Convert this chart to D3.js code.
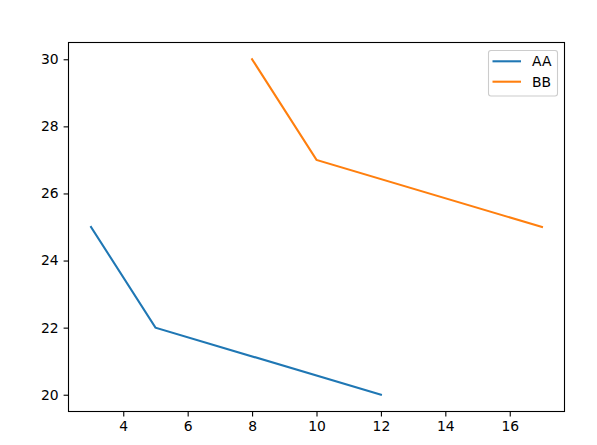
<!DOCTYPE html>
<html><head><meta charset="utf-8">
<script src="https://cdn.jsdelivr.net/npm/d3@7"></script>
<style>body{margin:0;background:#fff}svg{display:block}text{font-family:"DejaVu Sans",sans-serif}</style>
</head><body>
<svg id="c" width="597" height="445"></svg>
<script>
const seriesNames = ["AA", "BB"];
const aaX = [3, 5, 12];
const aaY = [25, 22, 20];
const bbX = [8, 10, 17];
const bbY = [30, 27, 25];
const xTicks = [4, 6, 8, 10, 12, 14, 16];
const yTicks = [20, 22, 24, 26, 28, 30];
const colors = ["#1f77b4", "#ff7f0e"];

const svg = d3.select("#c");
const L = 68.5, R = 564.5, T = 42.5, B = 411.5;
const FS = 13.9;
const x = d3.scaleLinear().domain([2.3, 17.7]).range([L, R]);
const y = d3.scaleLinear().domain([19.5, 30.5]).range([B, T]);

const series = [
  {name: seriesNames[0], pts: aaX.map((v, i) => [v, aaY[i]])},
  {name: seriesNames[1], pts: bbX.map((v, i) => [v, bbY[i]])}
];
const line = d3.line().x(d => x(d[0])).y(d => y(d[1]));
series.forEach((s, i) => {
  svg.append("path").attr("d", line(s.pts)).attr("fill", "none")
    .attr("stroke", colors[i]).attr("stroke-width", 2.08).attr("stroke-linecap", "square");
});

const xa = svg.append("g").attr("transform", `translate(0,${B})`)
  .call(d3.axisBottom(x).tickValues(xTicks).tickSize(4.9).tickPadding(4.9).tickFormat(d3.format("d")));
const ya = svg.append("g").attr("transform", `translate(${L},0)`)
  .call(d3.axisLeft(y).tickValues(yTicks).tickSize(4.9).tickPadding(4.9).tickFormat(d3.format("d")));
[xa, ya].forEach(a => {
  a.select(".domain").remove();
  a.selectAll("text").attr("font-size", FS).attr("fill", "#000").attr("font-family", "DejaVu Sans");
  a.selectAll("line").attr("stroke", "#000").attr("stroke-width", 1.1);
});
svg.append("rect").attr("x", L).attr("y", T).attr("width", R - L).attr("height", B - T)
  .attr("fill", "none").attr("stroke", "#000").attr("stroke-width", 1.1);

const lg = svg.append("g");
lg.append("rect").attr("x", 488.5).attr("y", 50.5).attr("width", 69).attr("height", 45.5)
  .attr("rx", 2.5).attr("fill", "#fff").attr("fill-opacity", 0.8).attr("stroke", "#ccc").attr("stroke-width", 1.1);
series.forEach((s, i) => {
  const yy = 61.3 + i * 20.4;
  lg.append("line").attr("x1", 492.5).attr("x2", 521).attr("y1", yy).attr("y2", yy)
    .attr("stroke", colors[i]).attr("stroke-width", 2.08);
  lg.append("text").attr("x", 532).attr("y", yy).attr("dy", "0.36em")
    .attr("font-size", FS).text(s.name);
});
</script>
</body></html>
